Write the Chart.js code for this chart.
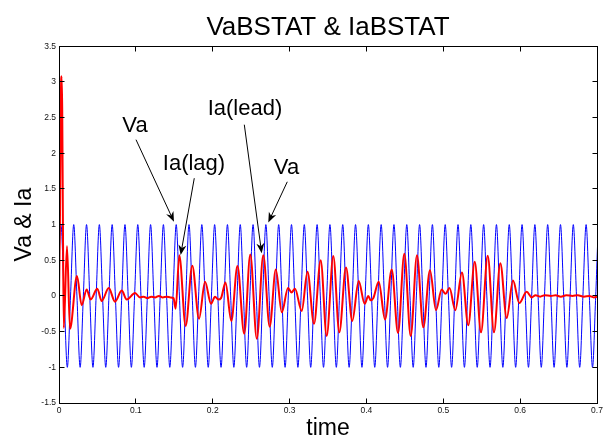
<!DOCTYPE html>
<html><head><meta charset="utf-8">
<script src="https://cdn.jsdelivr.net/npm/chart.js@4.4.0/dist/chart.umd.min.js"></script>
<style>html,body{margin:0;padding:0;background:#fff;}#wrap{width:606px;height:439px;}</style>
</head><body><div id="wrap"><canvas id="c" width="606" height="439"></canvas></div>
<script>
// ---- data ----
const xTickValues = [0, 0.1, 0.2, 0.3, 0.4, 0.5, 0.6, 0.7];
const xTickLabels = ['0', '0.1', '0.2', '0.3', '0.4', '0.5', '0.6', '0.7'];
const yTickValues = [-1.5, -1, -0.5, 0, 0.5, 1, 1.5, 2, 2.5, 3, 3.5];
const yTickLabels = ['-1.5', '-1', '-0.5', '0', '0.5', '1', '1.5', '2', '2.5', '3', '3.5'];

// Va (blue): sampled every quarter period of the 60 Hz wave
const blueStart = -0.0016667;
const blueStep = 1 / 240;
const blueValues = [
  0,1,0,-1, 0,1,0,-1, 0,1,0,-1, 0,1,0,-1, 0,1,0,-1, 0,1,0,-1, 0,1,0,-1, 0,1,0,-1, 0,1,0,-1, 0,1,0,-1,
  0,1,0,-1, 0,1,0,-1, 0,1,0,-1, 0,1,0,-1, 0,1,0,-1, 0,1,0,-1, 0,1,0,-1, 0,1,0,-1, 0,1,0,-1, 0,1,0,-1,
  0,1,0,-1, 0,1,0,-1, 0,1,0,-1, 0,1,0,-1, 0,1,0,-1, 0,1,0,-1, 0,1,0,-1, 0,1,0,-1, 0,1,0,-1, 0,1,0,-1,
  0,1,0,-1, 0,1,0,-1, 0,1,0,-1, 0,1,0,-1, 0,1,0,-1, 0,1,0,-1, 0,1,0,-1, 0,1,0,-1, 0,1,0,-1, 0,1,0,-1,
  0,1,0,-1, 0,1,0,-1, 0,1,0,-1
];

// Ia (red): turning points
const redTimes = [
  0, 0.0012, 0.0026, 0.0034, 0.0042, 0.0050, 0.0062,
  0.0104, 0.0143, 0.0234, 0.0295, 0.0360, 0.0412, 0.0498, 0.0556, 0.0647, 0.0729, 0.0816, 0.0881, 0.0989, 0.1054,
  0.1100, 0.1150, 0.1200, 0.1250, 0.1300, 0.1350, 0.1400, 0.1450, 0.1490,
  0.1518, 0.1565, 0.1648, 0.1734, 0.1822, 0.1900, 0.1978, 0.2030, 0.2073, 0.2108,
  0.2166, 0.2242, 0.2322, 0.2410, 0.2489, 0.2574, 0.2658, 0.2741, 0.2821, 0.2899,
  0.2980, 0.3025, 0.3070, 0.3158, 0.3233, 0.3318, 0.3405, 0.3483, 0.3569, 0.3647,
  0.3734, 0.3816, 0.3899, 0.3977, 0.4024, 0.4055, 0.4090, 0.4160, 0.4242, 0.4329,
  0.4411, 0.4493, 0.4576, 0.4658, 0.4740, 0.4827, 0.4905, 0.4979, 0.5029, 0.5081,
  0.5156, 0.5243, 0.5325, 0.5409, 0.5491, 0.5578, 0.5660, 0.5742, 0.5825, 0.5907,
  0.5989, 0.6085, 0.6150, 0.6200, 0.6260, 0.6320, 0.6400, 0.6460, 0.6530, 0.6600,
  0.6680, 0.6750, 0.6830, 0.6900, 0.6960, 0.7000
];
const redValues = [
  0, 1.00, 2.90, 3.08, 2.60, 1.20, -0.45,
  0.70, -0.46, 0.28, -0.13, 0.09, -0.05, 0.10, -0.07, 0.11, -0.08, 0.075, -0.05, 0.04, -0.02,
  -0.01, -0.03, -0.01, -0.02, 0.00, -0.02, -0.01, -0.02, -0.03,
  -0.18, 0.57, -0.42, 0.425, -0.32, 0.20, -0.11, -0.01, -0.05, -0.03,
  0.19, -0.35, 0.42, -0.53, 0.58, -0.60, 0.57, -0.43, 0.37, -0.23,
  0.11, 0.05, 0.10, -0.21, 0.34, -0.39, 0.50, -0.56, 0.56, -0.51,
  0.40, -0.35, 0.21, -0.11, 0.00, -0.06, -0.03, 0.20, -0.33, 0.37,
  -0.52, 0.59, -0.56, 0.57, -0.44, 0.36, -0.20, 0.09, 0.03, 0.11,
  -0.20, 0.33, -0.41, 0.48, -0.51, 0.565, -0.51, 0.46, -0.31, 0.215,
  -0.10, 0.06, -0.02, 0.01, -0.01, 0.01, 0.00, 0.01, -0.01, 0.01,
  0.00, 0.01, -0.01, 0.00, -0.02, -0.01
];

// annotation labels and arrows (data coordinates)
const noteTexts = ['Va', 'Ia(lag)', 'Ia(lead)', 'Va'];
const notePos = [[0.0989, 2.377], [0.1756, 1.847], [0.242, 2.616], [0.296, 1.788]];
const noteFrom = [[0.1002, 2.19], [0.1760, 1.65], [0.2411, 2.40], [0.2970, 1.60]];
const noteTo = [[0.1496, 1.04], [0.1583, 0.575], [0.2637, 0.60], [0.2723, 1.03]];

// ---- build ----
const FONT = "'Liberation Sans', Arial, Helvetica, sans-serif";
const bluePts = blueValues.map((v, i) => ({x: blueStart + i * blueStep, y: v}));
const redPts = redTimes.map((t, i) => ({x: t, y: redValues[i]}));

function labelFor(values, labels, v) {
  for (let i = 0; i < values.length; i++) if (Math.abs(values[i] - v) < 1e-6) return labels[i];
  return '';
}

const framePlugin = {
  id: 'frame',
  afterDraw(chart) {
    const ctx = chart.ctx;
    const a = chart.chartArea;
    const xs = chart.scales.x, ys = chart.scales.y;
    const L = Math.floor(a.left) + 0.5, R = Math.floor(a.right) + 0.5;
    const T = Math.floor(a.top) + 0.5, B = Math.floor(a.bottom) + 0.5;
    ctx.save();
    ctx.strokeStyle = '#000';
    ctx.lineWidth = 1;
    ctx.strokeRect(L, T, R - L, B - T);
    const tl = 5;
    ctx.beginPath();
    xTickValues.forEach(v => {
      const px = Math.floor(xs.getPixelForValue(v)) + 0.5;
      ctx.moveTo(px, B); ctx.lineTo(px, B - tl);
      ctx.moveTo(px, T); ctx.lineTo(px, T + tl);
    });
    yTickValues.forEach(v => {
      const py = Math.floor(ys.getPixelForValue(v)) + 0.5;
      ctx.moveTo(L, py); ctx.lineTo(L + tl, py);
      ctx.moveTo(R, py); ctx.lineTo(R - tl, py);
    });
    ctx.stroke();

    // annotations
    ctx.fillStyle = '#000';
    ctx.font = '22px ' + FONT;
    ctx.textAlign = 'center';
    ctx.textBaseline = 'middle';
    for (let i = 0; i < noteTexts.length; i++) {
      const tx = xs.getPixelForValue(notePos[i][0]), ty = ys.getPixelForValue(notePos[i][1]);
      ctx.fillText(noteTexts[i], tx, ty);
      const x0 = xs.getPixelForValue(noteFrom[i][0]), y0 = ys.getPixelForValue(noteFrom[i][1]);
      const x1 = xs.getPixelForValue(noteTo[i][0]), y1 = ys.getPixelForValue(noteTo[i][1]);
      const ang = Math.atan2(y1 - y0, x1 - x0);
      const len = 10, hw = 4, notch = 7;
      const bx = x1 - Math.cos(ang) * notch, by = y1 - Math.sin(ang) * notch;
      ctx.beginPath();
      ctx.moveTo(x0, y0); ctx.lineTo(bx, by);
      ctx.lineWidth = 1; ctx.stroke();
      const cx = x1 - Math.cos(ang) * len, cy = y1 - Math.sin(ang) * len;
      const nx = -Math.sin(ang) * hw, ny = Math.cos(ang) * hw;
      ctx.beginPath();
      ctx.moveTo(x1, y1);
      ctx.lineTo(cx + nx, cy + ny);
      ctx.lineTo(bx, by);
      ctx.lineTo(cx - nx, cy - ny);
      ctx.closePath();
      ctx.fill();
    }
    ctx.restore();
  }
};

new Chart(document.getElementById('c'), {
  type: 'line',
  data: {
    datasets: [
      {label: 'Ia', data: redPts, borderColor: '#ff0000', borderWidth: 2, pointRadius: 0,
       cubicInterpolationMode: 'monotone', fill: false},
      {label: 'Va', data: bluePts, borderColor: '#0000ff', borderWidth: 1, pointRadius: 0,
       cubicInterpolationMode: 'monotone', fill: false}
    ]
  },
  options: {
    responsive: false, animation: false, devicePixelRatio: 1,
    events: [],
    layout: {padding: {top: 0, right: 9, bottom: 0, left: 0}},
    plugins: {
      legend: {display: false}, tooltip: {enabled: false},
      title: {display: true, text: 'VaBSTAT & IaBSTAT', color: '#000', fullSize: false,
        font: {family: FONT, size: 26, weight: 'normal', lineHeight: 1.2},
        padding: {top: 12, bottom: 3}}
    },
    scales: {
      x: {
        type: 'linear', min: 0, max: 0.7,
        grid: {display: false, drawTicks: false}, border: {display: false},
        ticks: {stepSize: 0.1, autoSkip: false, maxRotation: 0, padding: 3, color: '#111',
          font: {family: FONT, size: 8.5},
          callback: v => labelFor(xTickValues, xTickLabels, v)},
        title: {display: true, text: 'time', color: '#000',
          font: {family: FONT, size: 23, lineHeight: 0.9}, padding: {top: 0, bottom: 0}},
        afterFit(s) { s.height = 36; }
      },
      y: {
        type: 'linear', min: -1.5, max: 3.5,
        grid: {display: false, drawTicks: false}, border: {display: false},
        ticks: {stepSize: 0.5, autoSkip: false, padding: 3, color: '#111',
          font: {family: FONT, size: 8.5},
          callback: v => labelFor(yTickValues, yTickLabels, v)},
        title: {display: true, text: 'Va & Ia', color: '#000',
          font: {family: FONT, size: 23, lineHeight: 1}, padding: {top: 13, bottom: 0}},
        afterFit(s) { s.width = 59; }
      }
    }
  },
  plugins: [framePlugin]
});
</script>
</body></html>
